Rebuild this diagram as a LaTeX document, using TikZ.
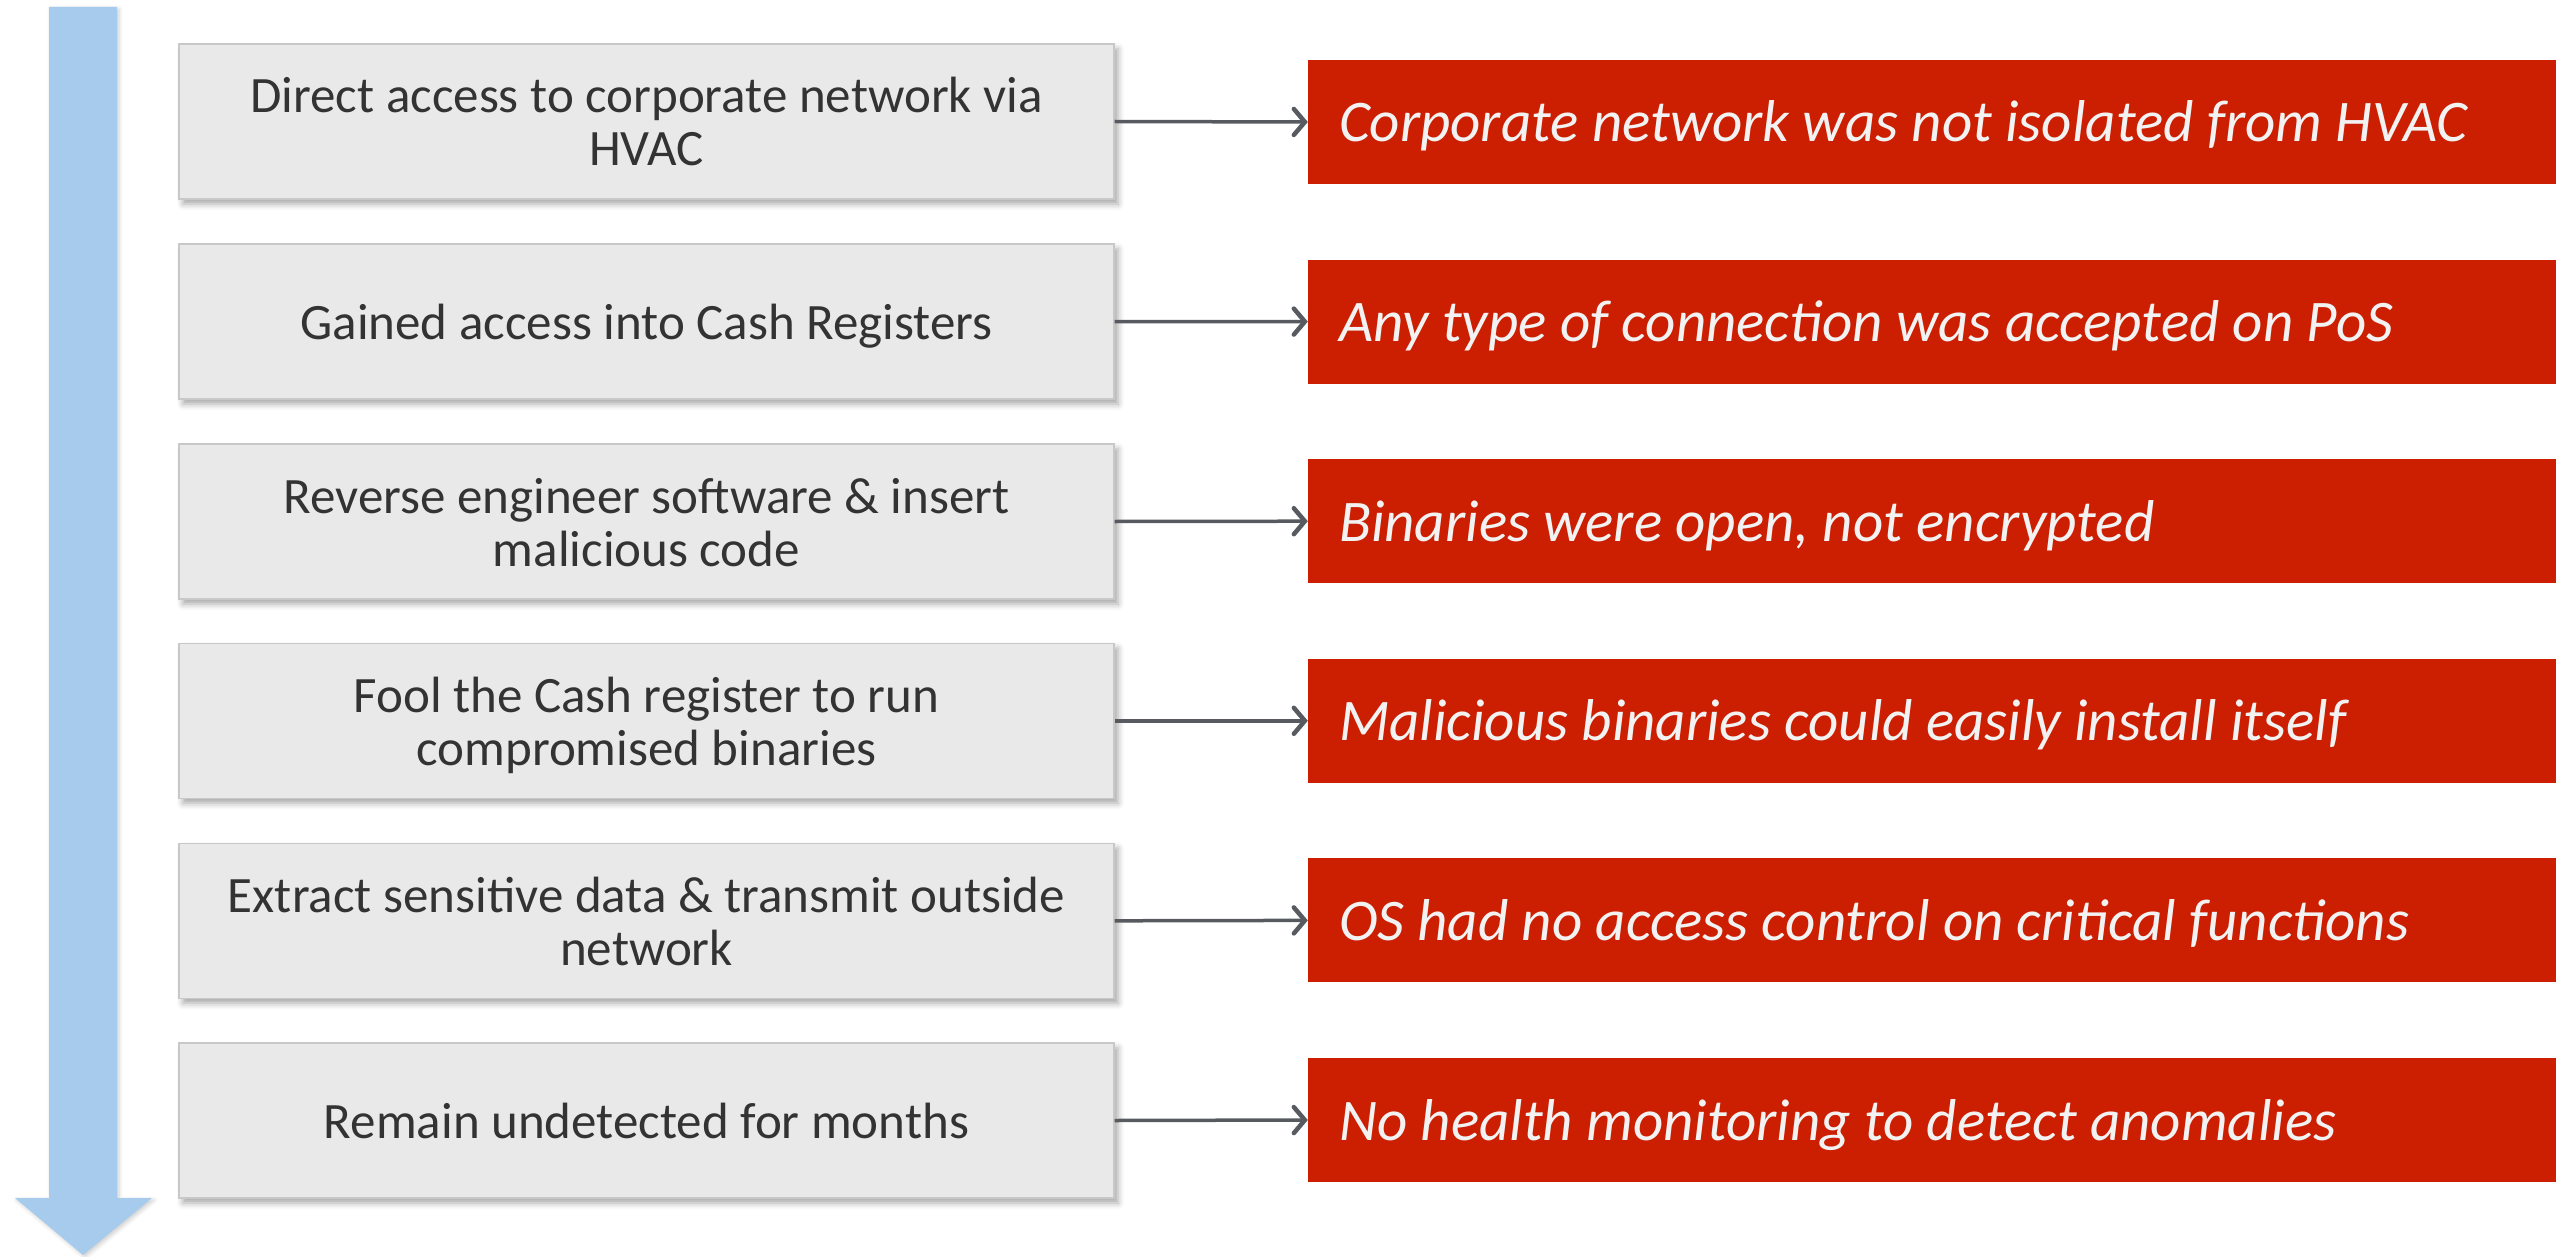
\documentclass[tikz,border=0pt]{standalone}
\usepackage{fontspec}
\setmainfont{Carlito}
\usetikzlibrary{arrows.meta,shadows.blur}
\definecolor{boxgray}{RGB}{233,233,233}
\definecolor{boxline}{RGB}{200,200,200}
\definecolor{txtgray}{RGB}{51,51,51}
\definecolor{alertred}{RGB}{204,30,0}
\definecolor{redtxt}{RGB}{242,242,242}
\definecolor{flowblue}{RGB}{166,203,236}
\definecolor{connline}{RGB}{87,91,96}
% first baseline 69pt below the box top, next lines 53pt apart
\newcommand{\steptwo}[2]{\begin{minipage}[c][155pt][t]{935pt}\centering\rule{0pt}{69pt}#1\\#2\end{minipage}}
\newcommand{\stepone}[1]{\begin{minipage}[c][155pt][t]{935pt}\centering\rule{0pt}{95pt}#1\end{minipage}}
\newcommand{\flawtext}[1]{\begin{minipage}[c][124pt][t]{1186pt}\raggedright\rule{0pt}{82pt}#1\end{minipage}}
\tikzset{
  x=1pt,y=1pt,
  stepbox/.style={draw=boxline, line width=1.2pt, fill=boxgray,
    minimum width=935pt, minimum height=155pt, inner sep=0pt,
    text=txtgray, font=\fontsize{51}{53}\selectfont,
    blur shadow={shadow xshift=4pt, shadow yshift=-5pt, shadow blur radius=6pt, shadow opacity=35}},
  flawbox/.style={fill=alertred, draw=none, minimum height=124pt,
    inner xsep=31pt, inner ysep=0pt,
    text=redtxt, font=\fontsize{59}{68}\selectfont\itshape},
  conn/.style={draw=connline, line width=3.5pt,
    -{Straight Barb[length=11pt,width=26pt,line width=4.5pt,line cap=round]}}
}
\begin{document}
\begin{tikzpicture}
\useasboundingbox (0,0) rectangle (2561,-1257);
% timeline arrow
\fill[flowblue, blur shadow={shadow xshift=2pt, shadow yshift=-2pt, shadow blur radius=4pt, shadow opacity=20}]
  (49,-7) -- (117,-7) -- (117,-1198) -- (152,-1198) -- (83,-1255) -- (15,-1198) -- (49,-1198) -- cycle;
% steps
\node[stepbox] (g1) at (646.5,-121.5) {\steptwo{Direct access to corporate network via}{HVAC}};
\node[stepbox] (g2) at (646.5,-321.5) {\stepone{Gained access into Cash Registers}};
\node[stepbox] (g3) at (646.5,-521.5) {\steptwo{Reverse engineer software \& insert}{malicious code}};
\node[stepbox] (g4) at (646.5,-720.8) {\steptwo{Fool the Cash register to run}{compromised binaries}};
\node[stepbox] (g5) at (646.5,-920.8) {\steptwo{Extract sensitive data \& transmit outside}{network}};
\node[stepbox] (g6) at (646.5,-1120.5) {\stepone{Remain undetected for months}};
% flaws
\node[flawbox] (r1) at (1932,-122) {\flawtext{Corporate network was not isolated from HVAC}};
\node[flawbox] (r2) at (1932,-321.6) {\flawtext{Any type of connection was accepted on PoS}};
\node[flawbox] (r3) at (1932,-521.2) {\flawtext{Binaries were open, not encrypted}};
\node[flawbox] (r4) at (1932,-720.8) {\flawtext{Malicious binaries could easily install itself}};
\node[flawbox] (r5) at (1932,-920.4) {\flawtext{OS had no access control on critical functions}};
\node[flawbox] (r6) at (1932,-1120) {\flawtext{No health monitoring to detect anomalies}};
% connectors
\foreach \i in {1,...,6}{
  \draw[conn] (g\i.east) -- (r\i.west);
}
\end{tikzpicture}
\end{document}
